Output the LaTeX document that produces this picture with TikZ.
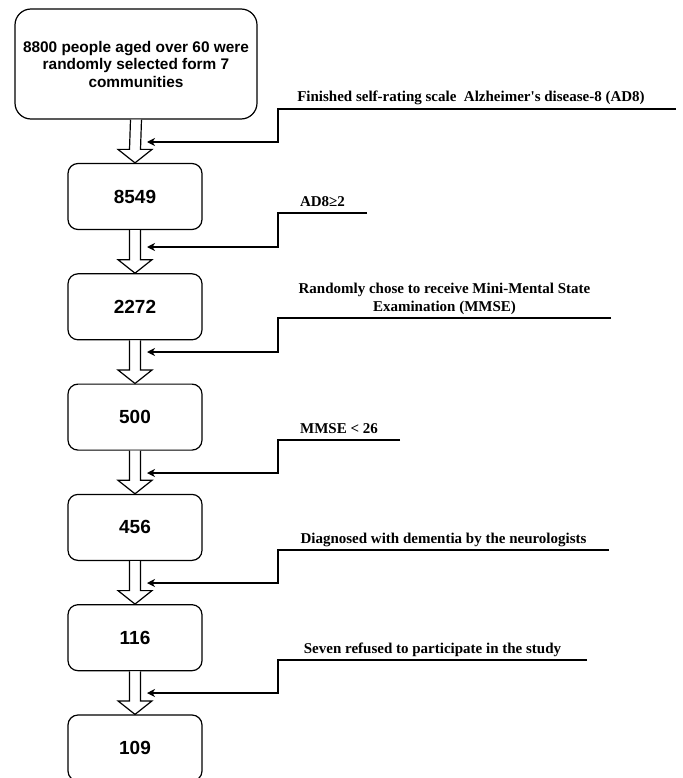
\documentclass[tikz,border=0pt]{standalone}
\usepackage{fontspec}
\setmainfont{Liberation Serif}
\newfontfamily\boxfont{Liberation Sans}
\usetikzlibrary{arrows.meta,calc}
\tikzstyle{block} = [rectangle, draw, line width=1.2pt, rounded corners=10pt,
    minimum width=134pt, minimum height=66pt, inner sep=0pt,
    font=\boxfont\bfseries\fontsize{19}{22}\selectfont]
\tikzstyle{note} = [anchor=base, inner sep=0pt, yshift=7pt,
    font=\bfseries\fontsize{15}{18}\selectfont]
\tikzstyle{feed} = [->, line width=1.2pt]
\tikzstyle{fat} = [line width=1.2pt, fill=white]

% hollow arrow from the bottom of #1 to the top of #2
\newcommand{\fatarrow}[2]{%
  \draw[fat] ([xshift=-5.5pt]#1.south) -- ([xshift=-5.5pt,yshift=13.5pt]#2.north)
    -- ([xshift=-17pt,yshift=13.5pt]#2.north) -- (#2.north)
    -- ([xshift=17pt,yshift=13.5pt]#2.north) -- ([xshift=5.5pt,yshift=13.5pt]#2.north)
    -- ([xshift=5.5pt]#1.south);}

\begin{document}
\begin{tikzpicture}[x=1pt,y=-1pt,>={Stealth[length=8pt,width=8pt,inset=2.5pt]},
                    node distance=110.3pt]
  \useasboundingbox (0,0) rectangle (682,778);

  \node[block,minimum width=242pt,minimum height=110pt,rounded corners=16pt,align=center,
        font=\boxfont\bfseries\fontsize{15.4}{17.5}\selectfont]
        (1) at (136,64) {8800 people aged over 60 were\\randomly selected form 7\\communities};
  \node[block] (2) [below of=1,node distance=132.5pt,xshift=-1pt] {8549};
  \node[block] (3) [below of=2] {2272};
  \node[block] (4) [below of=3] {500};
  \node[block] (5) [below of=4] {456};
  \node[block] (6) [below of=5] {116};
  \node[block] (7) [below of=6] {109};

  \fatarrow{1}{2}
  \fatarrow{2}{3}
  \fatarrow{3}{4}
  \fatarrow{4}{5}
  \fatarrow{5}{6}
  \fatarrow{6}{7}

  % side lines: end, corner, tip
  \coordinate (e1) at (676,109); \coordinate (k1) at (278,109); \coordinate (t1) at (147,142);
  \coordinate (e2) at (367,213); \coordinate (k2) at (278,213); \coordinate (t2) at (147,247);
  \coordinate (e3) at (611,318); \coordinate (k3) at (278,318); \coordinate (t3) at (147,352);
  \coordinate (e4) at (400,440); \coordinate (k4) at (278,440); \coordinate (t4) at (147,473);
  \coordinate (e5) at (609,550); \coordinate (k5) at (278,550); \coordinate (t5) at (147,583);
  \coordinate (e6) at (587,660); \coordinate (k6) at (278,660); \coordinate (t6) at (147,693);

  \draw[feed] (e1) -- (k1) |- (t1);
  \draw[feed] (e2) -- (k2) |- (t2);
  \draw[feed] (e3) -- (k3) |- (t3);
  \draw[feed] (e4) -- (k4) |- (t4);
  \draw[feed] (e5) -- (k5) |- (t5);
  \draw[feed] (e6) -- (k6) |- (t6);

  \node[note,xshift=-6pt] (l1) at ($(k1)!.5!(e1)$) {Finished self-rating scale\ \ Alzheimer\textquotesingle s disease-8 (AD8)};
  \node[note] (l2) at ($(k2)!.5!(e2)$) {AD8≥2};
  \node[note,anchor=south,yshift=-4.3pt,align=center] (l3) at ($(k3)!.5!(e3)$)
        {Randomly chose to receive Mini-Mental State\\Examination (MMSE)};
  \node[note] (l4) at ($(k4)!.5!(e4)$) {MMSE < 26};
  \node[note] (l5) at ($(k5)!.5!(e5)$) {Diagnosed with dementia by the neurologists};
  \node[note] (l6) at ($(k6)!.5!(e6)$) {Seven refused to participate in the study};
\end{tikzpicture}
\end{document}
